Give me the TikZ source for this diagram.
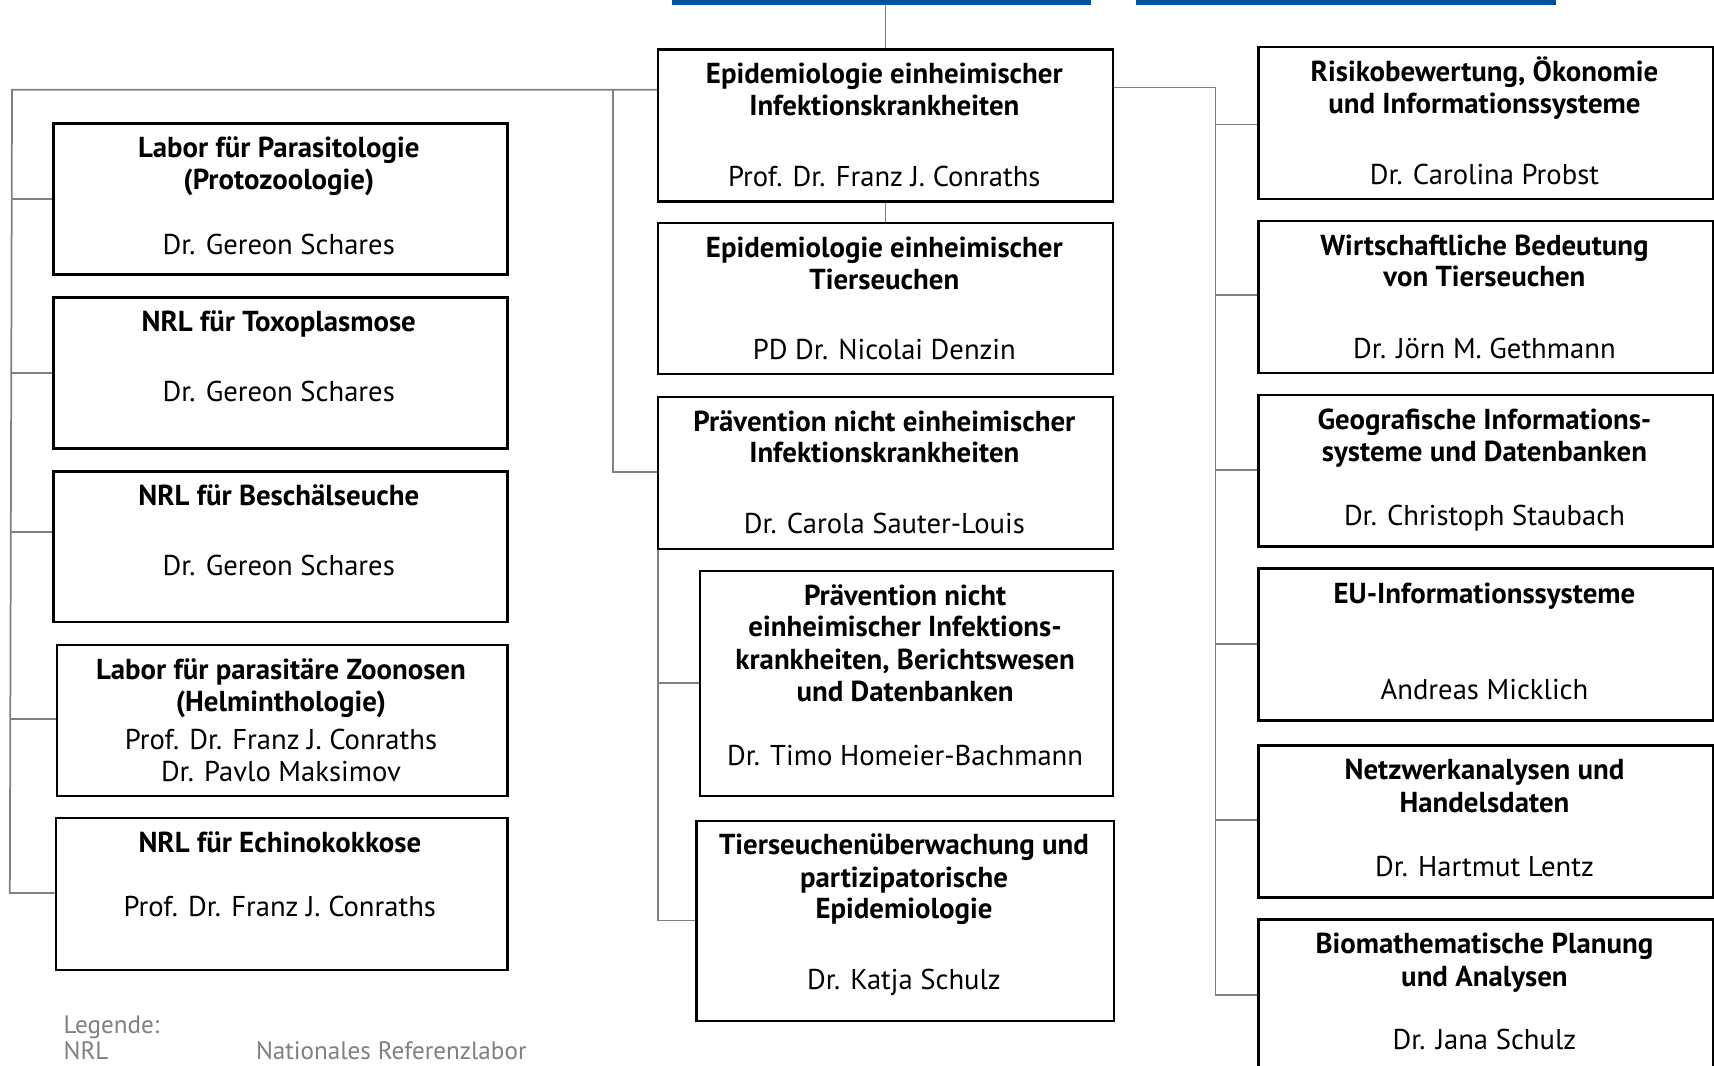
\documentclass[tikz,border=0pt]{standalone}
\usepackage{fontspec}
\setmainfont{PT Sans}
\definecolor{barblue}{RGB}{0,82,159}
\definecolor{conngray}{RGB}{128,128,128}
\begin{document}
\begin{tikzpicture}[x=1pt,y=-1pt,
  box/.style={draw=black, line width=2.3pt, anchor=north west, inner sep=0pt, fill=white},
  conn/.style={draw=conngray, line width=1.6pt},
  bar/.style={fill=barblue, anchor=north west, inner sep=0pt, minimum height=4.5pt},
  tb/.style={font=\fontsize{26.4}{30}\selectfont\bfseries, anchor=mid, inner sep=0pt, yshift=-6pt},
  tr/.style={font=\fontsize{26.2}{30}\selectfont, anchor=mid, inner sep=0pt, yshift=-6pt},
  lg/.style={font=\fontsize{23}{27}\selectfont, text=conngray, anchor=mid west, inner sep=0pt, yshift=-3pt}]
\useasboundingbox (0,0) rectangle (1568,975);
\fill[white] (0,0) rectangle (1568,975);
% top bars
\node[bar, minimum width=383pt] (bar1) at (615,0) {};
\node[bar, minimum width=384pt] (bar2) at (1039,0) {};
% left column boxes
\node[box, minimum width=415pt, minimum height=138pt] (L1) at (48,112) {};
\node[box, minimum width=415pt, minimum height=138pt] (L2) at (48,271) {};
\node[box, minimum width=415pt, minimum height=138pt] (L3) at (48,430) {};
\node[box, minimum width=412pt, minimum height=138pt] (L4) at (51,589) {};
\node[box, minimum width=413pt, minimum height=139pt] (L5) at (50,747) {};
% central column boxes
\node[box, minimum width=416pt, minimum height=139pt] (C1) at (601,44) {};
\node[box, minimum width=416pt, minimum height=138pt] (C2) at (601,203) {};
\node[box, minimum width=416pt, minimum height=139pt] (C3) at (601,362) {};
\node[box, minimum width=378pt, minimum height=206pt] (C4) at (639,521) {};
\node[box, minimum width=382pt, minimum height=183pt] (C5) at (636,750) {};
% right column boxes
\node[box, minimum width=416pt, minimum height=139pt] (R1) at (1150,42) {};
\node[box, minimum width=416pt, minimum height=139pt] (R2) at (1150,201) {};
\node[box, minimum width=416pt, minimum height=139pt] (R3) at (1150,360) {};
\node[box, minimum width=416pt, minimum height=139pt] (R4) at (1150,519) {};
\node[box, minimum width=416pt, minimum height=139pt] (R5) at (1150,681) {};
\node[box, minimum width=416pt, minimum height=160pt] (R6) at (1150,840) {};
% connectors: left trunk
\coordinate (ltop) at (11,82);
\coordinate (lbot) at (9,817);
\draw[conn] (ltop -| C1.west) -- (ltop) -- (lbot) -- (lbot -| L5.west);
\coordinate (s1) at (11,182);
\coordinate (s2) at (10.6,341);
\coordinate (s3) at (10.2,487);
\coordinate (s4) at (9.6,658);
\draw[conn] (s1) -- (s1 -| L1.west);
\draw[conn] (s2) -- (s2 -| L2.west);
\draw[conn] (s3) -- (s3 -| L3.west);
\draw[conn] (s4) -- (s4 -| L4.west);
% middle branch
\coordinate (mtop) at (561,82);
\coordinate (mbot) at (561,432);
\draw[conn] (mtop) -- (mbot) -- (mbot -| C3.west);
% top connector and C1-C2
\draw[conn] (C1.north |- bar1.south) -- (C1.north);
\draw[conn] (C1.south) -- (C2.north);
% lower central branch
\coordinate (cbot) at (602,842);
\coordinate (c4s) at (602,625);
\draw[conn] ([xshift=1pt]C3.south west) -- (cbot) -- (cbot -| C5.west);
\draw[conn] (c4s) -- (c4s -| C4.west);
% right branch
\coordinate (rtop) at (1112,80);
\coordinate (rbot) at (1112,910);
\draw[conn] (rtop -| C1.east) -- (rtop) -- (rbot) -- (rbot -| R6.west);
\foreach \n/\yy in {1/114,2/270,3/430,4/589,5/750}{
  \coordinate (rs\n) at (1112,\yy);
  \draw[conn] (rs\n) -- (rs\n -| R\n.west);
}
% left texts
\node[tb] (L1a) at (255,136) {Labor für Parasitologie};
\node[tb] (L1b) at (255,165) {(Protozoologie)};
\node[tr] (L1n) at (255,224) {Dr. Gereon Schares};
\node[tb] (L2a) at (255,295) {NRL für Toxoplasmose};
\node[tr] (L2n) at (255,359) {Dr. Gereon Schares};
\node[tb] (L3a) at (255,454) {NRL für Beschälseuche};
\node[tr] (L3n) at (255,518) {Dr. Gereon Schares};
\node[tb] (L4a) at (257,613) {Labor für parasitäre Zoonosen};
\node[tb] (L4b) at (257,642) {(Helminthologie)};
\node[tr] (L4n) at (257,677) {Prof. Dr. Franz J. Conraths};
\node[tr] (L4m) at (257,706) {Dr. Pavlo Maksimov};
\node[tb] (L5a) at (256,771) {NRL für Echinokokkose};
\node[tr] (L5n) at (256,830) {Prof. Dr. Franz J. Conraths};
% central texts
\node[tb] (C1a) at (809,68) {Epidemiologie einheimischer};
\node[tb] (C1b) at (809,97) {Infektionskrankheiten};
\node[tr] (C1n) at (809,162) {Prof. Dr. Franz J. Conraths};
\node[tb] (C2a) at (809,227) {Epidemiologie einheimischer};
\node[tb] (C2b) at (809,256) {Tierseuchen};
\node[tr] (C2n) at (809,320) {PD Dr. Nicolai Denzin};
\node[tb] (C3a) at (809,386) {Prävention nicht einheimischer};
\node[tb] (C3b) at (809,415) {Infektionskrankheiten};
\node[tr] (C3n) at (809,480) {Dr. Carola Sauter-Louis};
\node[tb] (C4a) at (828,545) {Prävention nicht};
\node[tb] (C4b) at (828,574) {einheimischer Infektions-};
\node[tb] (C4c) at (828,604) {krankheiten, Berichtswesen};
\node[tb] (C4d) at (828,633) {und Datenbanken};
\node[tr] (C4n) at (828,692) {Dr. Timo Homeier-Bachmann};
\node[tb] (C5a) at (827,773) {Tierseuchenüberwachung und};
\node[tb] (C5b) at (827,803) {partizipatorische};
\node[tb] (C5c) at (827,832) {Epidemiologie};
\node[tr] (C5n) at (827,897) {Dr. Katja Schulz};
% right texts
\node[tb] (R1a) at (1358,66) {Risikobewertung, Ökonomie};
\node[tb] (R1b) at (1358,95) {und Informationssysteme};
\node[tr] (R1n) at (1358,160) {Dr. Carolina Probst};
\node[tb] (R2a) at (1358,225) {Wirtschaftliche Bedeutung};
\node[tb] (R2b) at (1358,254) {von Tierseuchen};
\node[tr] (R2n) at (1358,319) {Dr. Jörn M. Gethmann};
\node[tb] (R3a) at (1358,384) {Geografische Informations-};
\node[tb] (R3b) at (1358,414) {systeme und Datenbanken};
\node[tr] (R3n) at (1358,472) {Dr. Christoph Staubach};
\node[tb] (R4a) at (1358,544) {EU-Informationssysteme};
\node[tr] (R4n) at (1358,631) {Andreas Micklich};
\node[tb] (R5a) at (1358,705) {Netzwerkanalysen und};
\node[tb] (R5b) at (1358,735) {Handelsdaten};
\node[tr] (R5n) at (1358,793) {Dr. Hartmut Lentz};
\node[tb] (R6a) at (1358,864) {Biomathematische Planung};
\node[tb] (R6b) at (1358,894) {und Analysen};
\node[tr] (R6n) at (1358,952) {Dr. Jana Schulz};
% legend
\node[lg] (lg1) at (58,940) {Legende:};
\node[lg] (lg2) at (58,964) {NRL};
\node[lg] (lg3) at (234,964) {Nationales Referenzlabor};
\end{tikzpicture}
\end{document}
